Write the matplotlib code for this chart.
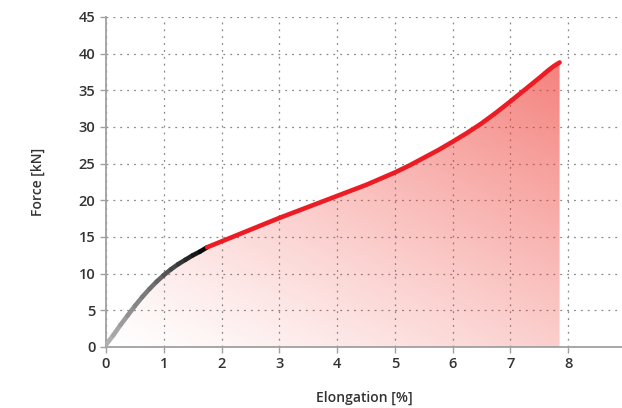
import numpy as np
import matplotlib.pyplot as plt
from matplotlib.collections import LineCollection
from matplotlib.colors import LinearSegmentedColormap

plt.rcParams['font.family'] = ['Open Sans', 'DejaVu Sans']

# force-elongation curve
elong = [0.0, 0.125, 0.25, 0.375, 0.5, 0.625, 0.75, 0.875, 1.0, 1.125, 1.25, 1.375,
         1.5, 1.625, 1.75, 2.0, 2.25, 2.5, 2.75, 3.0, 3.5, 4.0, 4.5, 5.0, 5.25, 5.5,
         5.75, 6.0, 6.25, 6.5, 6.75, 7.0, 7.25, 7.5, 7.65, 7.75, 7.85]
force = [0.3, 1.6, 3.0, 4.3, 5.6, 6.8, 7.9, 8.9, 9.8, 10.6, 11.3, 11.9,
         12.5, 13.0, 13.6, 14.4, 15.2, 16.0, 16.8, 17.6, 19.1, 20.6, 22.1, 23.8, 24.75, 25.8,
         26.85, 28.0, 29.2, 30.5, 31.95, 33.5, 35.1, 36.7, 37.7, 38.3, 38.8]
split = 1.75  # grey/black part ends here, red part starts

x = np.array(elong)
y = np.array(force)

fig = plt.figure(figsize=(6.22, 4.08), dpi=100)
ax = fig.add_axes([106 / 622, 61 / 408, 516 / 622, 330 / 408])
ax.set_xlim(0, 8.93)
ax.set_ylim(0, 45)

# gradient fill under the curve
poly = ax.fill_between(x, y, 0, color='none', lw=0)
gx, gy = np.meshgrid(np.linspace(0, 8.93, 300), np.linspace(0, 45, 300))
a = np.clip(0.45 * gx / 7.85 + 0.55 * gy / 39.0, 0, 1) ** 1.2 * 0.62
img = np.zeros(gx.shape + (4,))
img[..., 0] = 0.93
img[..., 1] = 0.2
img[..., 2] = 0.17
img[..., 3] = a
im = ax.imshow(img, extent=[0, 8.93, 0, 45], origin='lower', aspect='auto', zorder=1)
im.set_clip_path(poly.get_paths()[0], transform=ax.transData)

# grey->black part of curve
m1 = x <= split
pts = np.array([x[m1], y[m1]]).T.reshape(-1, 1, 2)
segs = np.concatenate([pts[:-1], pts[1:]], axis=1)
cmap = LinearSegmentedColormap.from_list('gb', ['#b0b0b0', '#6a6a6a', '#0a0a0a'])
lc = LineCollection(segs, cmap=cmap, linewidths=3.3, capstyle='round',
                    joinstyle='round', zorder=3)
lc.set_array(np.linspace(0, 1, len(segs)))
ax.add_collection(lc)

# red part
m2 = x >= split
ax.plot(x[m2], y[m2], color='#ec1c24', lw=3.3, solid_capstyle='round',
        solid_joinstyle='round', zorder=3)

ax.set_xticks(range(0, 9))
ax.set_yticks(range(0, 46, 5))
ax.grid(True, color='#8a8a8a', linestyle=(0, (1.5, 4)), lw=0.9)
ax.set_axisbelow(True)
for s in ['top', 'right']:
    ax.spines[s].set_visible(False)
for s in ['left', 'bottom']:
    ax.spines[s].set_color('#a0a0a0')
    ax.spines[s].set_linewidth(1.3)
ax.tick_params(colors='#a0a0a0', labelcolor='#333333', labelsize=10.5, length=4, width=1)
for lab in ax.get_xticklabels() + ax.get_yticklabels():
    lab.set_fontweight('semibold')
ax.set_xlabel('Elongation [%]', fontsize=10, color='#333333', labelpad=14,
              fontweight='semibold')
ax.set_ylabel('Force [kN]', fontsize=10, color='#333333', labelpad=24,
              fontweight='semibold')

fig.savefig('out.png', dpi=100)
